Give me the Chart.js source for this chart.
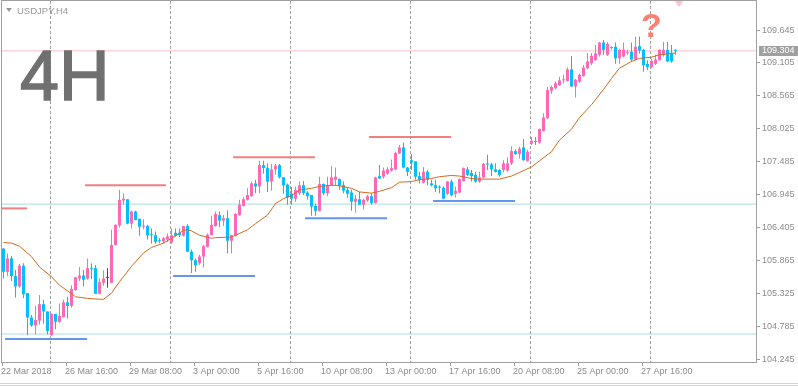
<!DOCTYPE html>
<html>
<head>
  <meta charset="utf-8" />
  <title>USDJPY,H4</title>
  <script src="https://cdn.jsdelivr.net/npm/chart.js"></script>
  <style>
    html, body { margin: 0; padding: 0; background: #fff; }
    #wrap { position: relative; width: 798px; height: 386px; overflow: hidden; }
    #chart { position: absolute; left: 0; top: 0; }
    .tri { position: absolute; left: 6px; top: 8px; width: 0; height: 0;
           border-left: 3px solid transparent; border-right: 3px solid transparent; border-top: 4px solid #999; }
    .sym { position: absolute; left: 17px; top: 5px; line-height: 10px;
           font: 9.5px "Liberation Sans", Arial, sans-serif; color: #999; }
    .big { position: absolute; left: 20px; top: 36px; line-height: 70px;
           font: 70px "Liberation Sans", Arial, sans-serif; color: #707070;
           -webkit-text-stroke: 1.5px #707070; }
    .q { position: absolute; left: 641px; top: 6px; line-height: 34px;
         font: bold 34px "Liberation Sans", Arial, sans-serif; color: #fa8072; }
    .shift { position: absolute; left: 675px; top: 1px; width: 0; height: 0;
             border-left: 4px solid transparent; border-right: 4px solid transparent; border-top: 6px solid #ffc0cb; }
    .edge { position: absolute; left: 0; width: 798px; height: 1px; background: #d4d4d4; }
  </style>
</head>
<body>
<div id="wrap">
  <canvas id="chart" width="798" height="386"></canvas>
  <div class="tri"></div>
  <div class="sym">USDJPY,H4</div>
  <div class="big">4H</div>
  <div class="q">?</div>
  <div class="shift"></div>
  <div class="edge" style="top:383px"></div>
  <div class="edge" style="top:385px"></div>
</div>

<script>
  // H4 candles, 22 Mar 2018 00:00 onwards
  const open = [
    106.06,105.68,105.90,105.61,105.44,105.78,105.33,104.93,104.80,104.88,
    105.15,105.03,104.64,104.99,104.86,104.94,105.18,105.12,105.38,105.57,
    105.62,105.57,105.74,105.74,105.32,105.50,105.58,105.50,106.12,106.44,
    106.85,106.87,106.47,106.67,106.55,106.42,106.43,106.29,106.28,106.19,
    106.18,106.21,106.16,106.32,106.32,106.27,106.43,106.01,105.87,105.82,
    105.93,106.09,106.28,106.43,106.61,106.52,106.56,106.19,106.27,106.61,
    106.76,106.86,106.92,107.13,107.08,107.43,107.38,107.16,107.36,107.43,
    107.23,107.11,106.96,106.88,106.97,107.10,106.98,106.94,106.76,106.68,
    107.12,106.97,107.10,107.19,107.20,107.10,107.02,106.98,106.83,106.87,
    106.78,106.85,106.92,106.81,107.25,107.24,107.29,107.34,107.36,107.62,
    107.72,107.39,107.51,107.49,107.25,107.14,107.32,107.13,107.10,107.07,
    107.06,106.96,107.16,106.96,106.98,107.17,107.36,107.30,107.27,107.16,
    107.23,107.45,107.44,107.36,107.35,107.35,107.34,107.46,107.66,107.61,
    107.72,107.50,107.78,107.82,107.80,107.99,108.20,108.65,108.69,108.74,
    108.82,108.81,109.00,108.72,108.80,108.89,109.02,109.10,109.15,109.24,
    109.44,109.24,109.35,109.37,109.18,109.21,109.27,109.29,109.16,109.38,
    109.32,109.09,109.04,109.09,109.15,109.24,109.32,109.27,109.32
  ];
  const high = [
    106.07,105.98,105.94,105.71,105.81,105.82,105.33,104.97,105.12,105.30,
    105.22,105.03,105.00,104.99,105.16,105.22,105.27,105.46,105.60,105.76,
    105.71,105.90,105.82,105.79,105.57,105.70,105.74,106.37,106.46,107.02,
    106.97,106.87,106.68,106.68,106.55,106.54,106.45,106.39,106.34,106.23,
    106.25,106.31,106.39,106.39,106.39,106.43,106.46,106.04,105.90,105.96,
    106.12,106.31,106.60,106.67,106.67,106.61,106.69,106.28,106.64,106.86,
    106.90,107.05,107.16,107.19,107.50,107.50,107.46,107.45,107.45,107.45,
    107.23,107.13,107.07,107.08,107.16,107.17,107.00,106.94,106.80,107.24,
    107.13,107.24,107.42,107.39,107.21,107.16,107.07,107.03,106.94,106.99,
    106.88,106.94,106.97,107.24,107.43,107.39,107.40,107.52,107.65,107.76,
    107.80,107.40,107.61,107.49,107.32,107.40,107.35,107.19,107.19,107.10,
    107.08,107.17,107.19,107.08,107.21,107.39,107.40,107.35,107.32,107.32,
    107.47,107.60,107.47,107.46,107.36,107.51,107.56,107.74,107.69,107.73,
    107.86,107.68,107.89,107.89,108.03,108.28,108.71,108.73,108.80,108.88,
    108.91,109.03,109.22,108.84,108.93,109.07,109.27,109.27,109.40,109.45,
    109.48,109.45,109.38,109.44,109.34,109.44,109.32,109.44,109.54,109.54,
    109.34,109.15,109.18,109.24,109.33,109.45,109.45,109.40,109.33
  ];
  const low = [
    105.57,105.61,105.53,105.26,105.42,105.25,104.64,104.78,104.65,104.81,
    104.83,104.65,104.63,104.74,104.84,104.93,104.92,105.09,105.37,105.53,
    105.44,105.55,105.56,105.32,105.31,105.45,105.42,105.49,106.11,106.41,
    106.78,106.46,106.39,106.52,106.27,106.38,106.21,106.14,106.14,106.15,
    106.15,106.17,106.14,106.26,106.25,106.26,106.01,105.66,105.68,105.79,
    105.75,106.08,106.28,106.42,106.41,106.43,105.98,105.98,106.26,106.60,
    106.75,106.85,106.91,106.97,106.97,107.29,106.99,107.01,107.27,107.21,
    106.96,106.78,106.78,106.83,106.94,106.94,106.86,106.60,106.60,106.67,
    106.94,106.92,107.09,107.10,107.02,106.97,106.89,106.68,106.65,106.78,
    106.70,106.83,106.78,106.80,107.20,107.21,107.27,107.32,107.35,107.61,
    107.38,107.25,107.35,107.19,107.13,107.13,107.10,107.08,106.99,106.97,
    106.87,106.94,106.92,106.90,106.97,107.16,107.25,107.16,107.14,107.14,
    107.21,107.35,107.25,107.31,107.24,107.31,107.32,107.43,107.60,107.54,
    107.50,107.49,107.76,107.76,107.78,107.98,108.18,108.60,108.67,108.73,
    108.77,108.80,108.71,108.54,108.78,108.88,109.00,109.07,109.14,109.21,
    109.24,109.22,109.32,109.09,109.09,109.20,109.24,109.13,109.15,109.26,
    108.96,108.99,109.02,109.07,109.14,109.21,109.12,109.11,109.24
  ];
  const close = [
    105.68,105.90,105.61,105.44,105.78,105.31,104.93,104.80,104.89,105.15,
    105.03,104.71,104.99,104.86,104.96,105.18,105.12,105.40,105.59,105.62,
    105.55,105.74,105.73,105.32,105.51,105.57,105.58,106.12,106.45,106.86,
    106.88,106.47,106.67,106.53,106.42,106.43,106.28,106.28,106.17,106.18,
    106.23,106.26,106.28,106.27,106.28,106.43,106.01,105.87,105.79,105.93,
    106.10,106.29,106.45,106.63,106.52,106.56,106.19,106.28,106.63,106.78,
    106.87,106.94,107.13,107.08,107.43,107.38,107.16,107.36,107.42,107.23,
    107.10,106.90,106.88,107.02,107.10,106.97,106.92,106.75,106.68,107.12,
    106.97,107.10,107.23,107.24,107.09,107.01,106.96,106.83,106.88,106.78,
    106.86,106.92,106.81,107.23,107.21,107.34,107.36,107.38,107.63,107.72,
    107.39,107.32,107.47,107.24,107.19,107.32,107.19,107.10,107.05,107.06,
    106.88,107.16,106.94,107.01,107.20,107.38,107.27,107.25,107.16,107.23,
    107.45,107.44,107.36,107.32,107.27,107.46,107.46,107.66,107.61,107.70,
    107.51,107.65,107.83,107.81,108.02,108.21,108.66,108.71,108.77,108.82,
    108.83,109.00,108.72,108.83,108.91,109.03,109.13,109.22,109.26,109.44,
    109.32,109.42,109.36,109.18,109.32,109.32,109.28,109.16,109.37,109.31,
    109.07,109.04,109.14,109.16,109.32,109.32,109.13,109.13,109.304
  ];

  // moving average (bar index, price)
  const maIdx = [0,2,4,7,9,12,14,17,18,21,24,25,27,29,30,32,35,37,40,42,45,46,47,49,52,53,57,58,
                 61,63,66,68,70,72,74,77,79,82,84,87,89,92,94,97,99,102,104,107,109,112,114,117,119,
                 122,124,127,129,132,134,137,139,142,144,147,150,152,154,157,159,162,164,167,168];
  const maVal = [106.16,106.15,106.10,105.93,105.76,105.60,105.46,105.32,105.27,105.245,105.23,105.23,105.33,
                 105.52,105.60,105.77,105.99,106.08,106.15,106.23,106.36,106.37,106.35,106.28,106.23,106.24,
                 106.25,106.28,106.37,106.47,106.61,106.80,106.88,106.93,107.02,107.05,107.08,107.10,107.09,
                 107.05,106.99,106.97,107.00,107.06,107.15,107.16,107.19,107.21,107.24,107.26,107.25,107.21,
                 107.20,107.20,107.20,107.25,107.31,107.40,107.50,107.65,107.84,108.02,108.21,108.42,108.67,
                 108.85,109.02,109.13,109.18,109.20,109.24,109.26,109.27];

  // resistance / support segments: [price, from bar, to bar]
  const resistance = [[106.72, -0.4, 5.9], [107.10, 20.4, 40.6], [107.56, 57.4, 77.9], [107.89, 91.4, 111.9]];
  const support = [[104.58, 0.4, 20.9], [105.61, 42.4, 62.9], [106.56, 75.4, 95.9], [106.84, 107.4, 127.9]];
  const levels = [106.79, 104.66];

  const xTickLabels = ['22 Mar 2018', '26 Mar 16:00', '29 Mar 08:00', '3 Apr 00:00', '5 Apr 16:00',
                       '10 Apr 08:00', '13 Apr 00:00', '17 Apr 16:00', '20 Apr 08:00', '25 Apr 00:00', '27 Apr 16:00'];
  const weekStarts = [12, 42, 72, 102, 132, 162];
  const yTicks = [104.245, 104.785, 105.325, 105.865, 106.405, 106.945, 107.485, 108.025, 108.565, 109.105, 109.645];

  const xMin = -0.375, xMax = 188.125;
  const lastPrice = close[close.length - 1];
  const idx = close.map((_, i) => i);
  const colors = idx.map(i => close[i] > open[i] ? '#ff69b4' : (close[i] < open[i] ? '#00bfff' : '#ff0000'));

  const labelAt = {};
  xTickLabels.forEach((t, k) => { labelAt[(k * 16 - 0.375).toFixed(3)] = t; });
  const gridAt = {};
  weekStarts.forEach(w => { gridAt[(w - 0.375).toFixed(3)] = true; });
  const xTickVals = Object.keys(labelAt).concat(Object.keys(gridAt)).map(Number).sort((a, b) => a - b);

  const seg = (s, color) => ({
    type: 'line', data: [{x: s[1], y: s[0]}, {x: s[2], y: s[0]}],
    borderColor: color, borderWidth: 2, pointRadius: 0, order: 0
  });
  const hline = (v, color) => ({
    type: 'line', data: [{x: xMin, y: v}, {x: xMax, y: v}],
    borderColor: color, borderWidth: 1, pointRadius: 0, order: 5
  });

  const frame = {
    id: 'frame',
    afterDraw(chart) {
      const {ctx, chartArea: a} = chart;
      const py = Math.round(chart.scales.y.getPixelForValue(lastPrice));
      ctx.save();
      ctx.strokeStyle = '#a0a0a0';
      ctx.lineWidth = 1;
      ctx.strokeRect(a.left - 0.5, a.top - 0.5, a.right - a.left + 1, a.bottom - a.top + 1);
      ctx.fillStyle = '#a0a0a0';
      ctx.fillRect(a.right + 3, py - 5, chart.width - a.right - 3, 10);
      ctx.fillStyle = '#ffffff';
      ctx.font = '9px "Liberation Sans", Arial, sans-serif';
      ctx.textBaseline = 'middle';
      ctx.fillText(lastPrice.toFixed(3), a.right + 6, py);
      ctx.restore();
    }
  };

  Chart.defaults.font.family = '"Liberation Sans", Arial, sans-serif';
  Chart.defaults.font.size = 9;

  new Chart(document.getElementById('chart'), {
    type: 'bar',
    data: {
      datasets: [
        { type: 'line', label: 'MA', data: maIdx.map((x, k) => ({x: x, y: maVal[k]})),
          borderColor: '#d2691e', borderWidth: 1, pointRadius: 0, order: 0 },
        ...resistance.map(s => seg(s, '#f08080')),
        ...support.map(s => seg(s, '#6495ed')),
        { label: 'body', data: idx.map(i => ({x: i, y: [Math.min(open[i], close[i]), Math.max(open[i], close[i])]})),
          backgroundColor: colors, grouped: false, categoryPercentage: 1, barPercentage: 0.75, minBarLength: 1, order: 2 },
        { label: 'wick', data: idx.map(i => ({x: i, y: [low[i], high[i]]})),
          backgroundColor: colors, grouped: false, categoryPercentage: 1, barPercentage: 0.25, order: 3 },
        hline(lastPrice, '#ffc0cb'),
        ...levels.map(v => hline(v, '#a6dcdf'))
      ]
    },
    options: {
      responsive: false,
      animation: false,
      devicePixelRatio: 1,
      layout: { padding: { left: 2, top: 1, right: 0, bottom: 0 } },
      plugins: { legend: { display: false }, tooltip: { enabled: false } },
      scales: {
        x: {
          type: 'linear', min: xMin, max: xMax, offset: false,
          afterBuildTicks: s => { s.ticks = xTickVals.map(v => ({value: v})); },
          afterFit: s => { s.height = 24; s.paddingLeft = 0; s.paddingRight = 0; },
          ticks: {
            autoSkip: false, maxRotation: 0, align: 'start', labelOffset: -1, padding: 0, color: '#8c8c8c',
            callback: v => labelAt[v.toFixed(3)] || ''
          },
          grid: {
            offset: false,
            tickLength: 4,
            color: c => (c.tick && gridAt[c.tick.value.toFixed(3)]) ? '#a0a0a0' : 'rgba(0,0,0,0)',
            tickColor: c => (c.tick && labelAt[c.tick.value.toFixed(3)]) ? '#a0a0a0' : 'rgba(0,0,0,0)'
          },
          border: { display: false, dash: [3, 2] }
        },
        y: {
          position: 'right', min: 104.201, max: 110.121,
          afterBuildTicks: s => { s.ticks = yTicks.map(v => ({value: v})); },
          afterFit: s => { s.width = 42; s.paddingTop = 0; s.paddingBottom = 0; },
          ticks: { padding: 2, color: '#8c8c8c', callback: v => v.toFixed(3) },
          grid: { drawOnChartArea: false, tickLength: 4, color: '#a0a0a0' },
          border: { display: false }
        }
      }
    },
    plugins: [frame]
  });
</script>
</body>
</html>
